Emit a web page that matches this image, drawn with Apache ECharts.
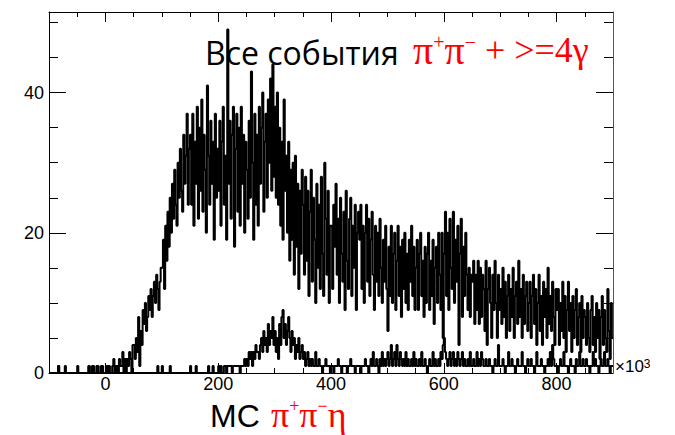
<!DOCTYPE html>
<html><head><meta charset="utf-8">
<script src="https://cdn.jsdelivr.net/npm/echarts@6/dist/echarts.min.js"></script>
<style>html,body{margin:0;padding:0;background:#fff}#c{width:675px;height:435px}</style>
</head><body><div id="c"></div><script>
// x axis (in units of 10^3), histogram binning
const xMin = -100, xMax = 900, binWidth = 2;
const xTickValues = [0, 200, 400, 600, 800];
const xMinorTickValues = [-50, 50, 100, 150, 250, 300, 350, 450, 500, 550, 650, 700, 750, 850];
const yMin = 0, yMax = 51.5;
const yTickValues = [0, 20, 40];
const yMinorTickValues = [5, 10, 15, 25, 30, 35, 45, 50];

// "Все события π+π− + >=4γ" : counts per bin (500 bins of width 2, from -100)
const allEventCounts = [
 0,0,0,0,0,0,0,0,1,0, 0,0,0,0,0,0,0,0,0,0, 0,0,0,0,0,
 0,0,0,0,0,0,0,0,0,0, 1,0,0,0,1,0,0,0,1,0, 0,1,0,0,0,
 0,1,0,1,0,0,1,2,0,1, 1,0,2,1,1,3,0,2,1,2, 1,3,2,0,4,
 4,2,5,3,8,1,6,4,9,7, 10,6,8,11,9,12,8,11,13,10, 14,12,9,13,15,
 15,19,12,21,16,23,18,25,20,27, 22,29,24,21,30,25,32,26,23,34, 27,31,37,24,32,
 34,24,37,21,33,27,38,22,35,26, 39,23,34,29,20,41,31,24,36,27, 33,19,37,25,32,
 26,36,21,33,38,24,31,19,49,27, 36,22,34,38,18,32,37,23,35,21, 38,27,34,20,33,
 29,22,36,25,43,30,19,37,24,34, 21,38,27,35,40,23,33,37,25,39, 30,42,26,44,28,
 38,25,40,24,35,21,33,19,39,26, 31,20,33,16,29,19,30,14,31,18, 27,12,26,17,29,
 24,14,28,16,26,11,23,29,13,25, 19,10,27,15,24,12,28,17,11,30, 22,14,26,10,21,
 21,12,24,18,27,14,22,10,25,17, 13,23,9,26,16,12,22,25,11,21, 15,24,9,20,23,
 19,24,12,21,10,20,24,13,22,11, 19,23,14,9,21,13,20,11,22,15, 10,19,13,21,12,
 6,18,11,21,10,17,20,9,16,21, 11,18,8,19,12,20,10,17,9,19, 13,21,11,18,9,
 15,19,9,17,20,11,16,8,18,10, 17,20,9,16,11,19,7,15,18,10, 20,14,9,20,5,
 17,23,11,20,9,22,15,12,23,10, 19,13,21,4,17,22,8,18,11,20, 14,9,15,8,14,
 13,16,7,14,9,16,7,15,8,14, 12,6,16,4,12,15,10,5,14,9, 16,10,5,14,9,
 12,7,15,8,13,5,11,14,6,12, 8,15,5,11,13,7,16,8,12,5, 14,7,11,13,6,
 10,13,5,11,14,7,12,4,10,14, 6,11,4,13,8,12,5,15,7,11, 6,13,8,4,12,
 9,12,4,10,6,13,5,11,3,9, 13,6,10,3,11,5,9,12,4,8, 10,3,11,5,9,
 8,4,10,5,3,9,11,4,8,3, 10,5,9,2,8,11,4,9,5,3, 12,6,2,10,5
];

// "MC π+π−η" : counts per bin (same binning)
const mcCounts = [
 0,0,0,0,0,0,0,0,1,0, 0,0,0,0,1,0,0,0,0,0, 0,0,0,0,0,
 1,0,0,0,0,0,0,0,0,0, 1,0,0,1,0,0,0,1,0,0, 0,0,1,0,0,
 0,0,1,0,0,0,0,0,0,1, 0,0,0,0,0,0,0,0,1,0, 0,0,0,0,0,
 0,0,0,0,0,0,0,0,0,0, 0,0,0,0,0,0,0,0,0,0, 0,1,0,0,0,
 1,0,0,0,0,0,0,1,0,0, 0,0,0,0,0,0,0,0,0,0, 0,0,0,0,0,
 1,0,0,0,0,1,0,0,0,0, 0,0,0,0,0,0,1,0,0,0, 1,0,0,0,0,
 1,0,1,0,0,1,1,0,1,1, 1,1,0,1,1,1,1,1,1,0, 1,1,1,2,1,
 2,1,3,2,3,1,3,2,4,3, 3,2,4,5,3,6,4,5,3,7, 4,6,5,8,4,
 6,3,5,2,7,4,8,9,5,7, 4,6,8,5,3,6,4,5,2,4, 3,5,2,3,4,
 2,3,1,2,3,1,2,1,2,1, 1,3,1,1,2,1,1,0,1,1, 2,1,1,1,0,
 1,1,0,1,1,1,2,1,1,0, 1,1,1,1,0,1,1,2,1,1, 1,0,1,1,1,
 1,0,1,1,1,2,1,1,0,1, 2,1,3,1,1,2,1,0,2,1, 3,1,2,1,2,
 3,1,2,4,1,2,3,1,4,2, 1,3,2,1,2,1,3,1,2,1, 1,2,1,3,1,
 2,1,1,2,1,3,1,1,2,1, 0,1,2,1,1,3,1,2,1,1, 2,1,3,2,4,
 5,3,2,1,2,3,1,2,3,1, 2,1,3,2,1,2,3,1,2,1, 1,2,1,3,1,
 1,2,1,1,3,1,2,1,3,2, 1,1,2,1,1,2,1,1,0,1, 2,1,1,4,1,
 1,1,2,1,0,1,1,3,1,1, 2,1,1,0,1,2,1,1,1,3, 1,1,0,1,2,
 1,1,2,1,1,0,1,3,1,1, 1,2,1,1,0,1,1,2,1,3, 1,4,2,1,1,
 1,0,1,2,1,1,3,1,1,1, 0,1,2,1,1,1,0,2,1,1, 3,1,1,2,1,
 1,2,1,1,0,1,1,3,1,2, 1,1,0,1,2,1,1,3,1,1, 2,1,0,1,1
];

function toSteps(counts) {
  const pts = counts.map((c, i) => [xMin + i * binWidth, c]);
  pts.push([xMin + counts.length * binWidth, counts[counts.length - 1]]);
  return pts;
}

const chart = echarts.init(document.getElementById('c'), null, {renderer: 'svg'});
const black = '#000';
const hid = {show: false};
function xAx(pos, ticks, len, withLine, withLabel) {
  return {
    type: 'value', min: xMin, max: xMax, position: pos,
    splitLine: hid,
    axisLine: {show: withLine, onZero: false, lineStyle: {color: black, width: 1}},
    axisLabel: withLabel ? {show: true, customValues: ticks, color: black, fontSize: 18,
      fontFamily: 'Liberation Sans', margin: 3, lineHeight: 16} : hid,
    axisTick: {show: true, inside: true, length: len, customValues: ticks, lineStyle: {color: black, width: 1}}
  };
}
function yAx(pos, ticks, len, withLine, withLabel, lineColor) {
  return {
    type: 'value', min: yMin, max: yMax, position: pos,
    splitLine: hid,
    axisLine: {show: withLine, onZero: false, lineStyle: {color: lineColor || black, width: 1}},
    axisLabel: withLabel ? {show: true, customValues: ticks, color: black, fontSize: 18,
      fontFamily: 'Liberation Sans', margin: 5, lineHeight: 16} : hid,
    axisTick: {show: true, inside: true, length: len, customValues: ticks, lineStyle: {color: black, width: 1}}
  };
}
function histSeries(counts) {
  return {
    type: 'line', xAxisIndex: 0, yAxisIndex: 0, data: toSteps(counts), step: 'end',
    showSymbol: false, symbol: 'none', silent: true, animation: false,
    lineStyle: {color: black, width: 2}
  };
}
const red = '#ff0000';
const redRichTop = {
  p: {fontFamily: 'Liberation Serif', fontSize: 40, fill: red, lineHeight: 36},
  q: {fontFamily: 'Liberation Serif', fontSize: 36, fill: red, lineHeight: 36},
  s: {fontFamily: 'Liberation Serif', fontSize: 20, fill: red, lineHeight: 8, verticalAlign: 'top'}
};
const redRichBottom = {
  p: {fontFamily: 'Liberation Serif', fontSize: 36, fill: red, lineHeight: 36},
  s: {fontFamily: 'Liberation Serif', fontSize: 18, fill: red, lineHeight: 14, verticalAlign: 'top'}
};
chart.setOption({
  animation: false,
  grid: {left: 49, right: 62, top: 12, bottom: 62, containLabel: false},
  xAxis: [
    xAx('bottom', xTickValues, 10, true, true),
    xAx('bottom', xMinorTickValues, 5, false, false),
    xAx('top', xTickValues, 10, true, false),
    xAx('top', xMinorTickValues, 5, false, false)
  ],
  yAxis: [
    yAx('left', yTickValues, 17, true, true),
    yAx('left', yMinorTickValues, 9, false, false),
    yAx('right', yTickValues, 17, true, false, '#555'),
    yAx('right', yMinorTickValues, 9, false, false)
  ],
  series: [histSeries(allEventCounts), histSeries(mcCounts)],
  graphic: [
    {type: 'text', x: 205, y: 52, silent: true, style: {
      text: 'Все события', fill: black, fontSize: 32, lineHeight: 28, fontFamily: 'Open Sans',
      verticalAlign: 'middle', align: 'left'}},
    {type: 'text', x: 413, y: 32, silent: true, style: {
      text: '{p|π}{s|+}{p|π}{s|−}{q| + >=4γ}', align: 'left', verticalAlign: 'top', rich: redRichTop}},
    {type: 'text', x: 210, y: 416, silent: true, style: {
      text: 'MC', fill: black, fontSize: 32, lineHeight: 28, fontFamily: 'Liberation Sans',
      verticalAlign: 'middle', align: 'left'}},
    {type: 'text', x: 271, y: 397, silent: true, style: {
      text: '{p|π}{s|+}{p|π}{s|−}{p|η}', align: 'left', verticalAlign: 'top', rich: redRichBottom}},
    {type: 'text', x: 615, y: 358, silent: true, style: {
      text: '{a|×10}{b|3}', align: 'left', verticalAlign: 'top',
      rich: {
        a: {fontFamily: 'Liberation Sans', fontSize: 17, fill: black, lineHeight: 17},
        b: {fontFamily: 'Liberation Sans', fontSize: 12, fill: black, lineHeight: 10, verticalAlign: 'top'}
      }}}
  ]
});
</script></body></html>
